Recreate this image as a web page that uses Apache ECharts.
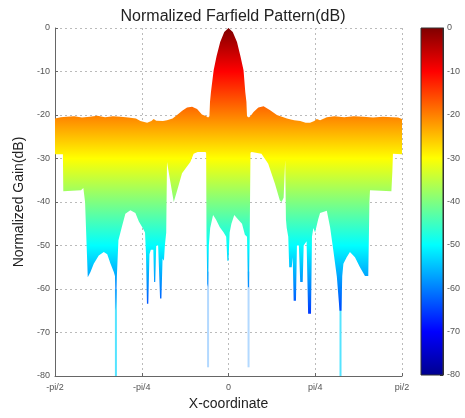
<!DOCTYPE html>
<html>
<head>
<meta charset="utf-8">
<script src="https://cdn.jsdelivr.net/npm/echarts@6/dist/echarts.min.js"></script>
<style>
  html, body { margin: 0; padding: 0; background: #fff; }
  #chart { width: 465px; height: 418px; }
</style>
</head>
<body>
<div id="chart"></div>
<script>
// tick labels of the angle axis (-90..90 deg)
const xTickLabels = ['-pi/2', '-pi/4', '0', 'pi/4', 'pi/2'];

// top edge of the surface seen from the side (deg, dB)
const upperAngle = [-90, -87, -84, -80, -76, -72, -68, -64, -60, -56, -52, -48, -45.7, -42.2, -40, -38.8, -37.5, -34, -31.9, -29,
  -26.7, -24, -21.5, -18.9, -16.3, -13.8, -11.5, -10.6, -9.9, -9.6, -9.1, -7.7, -6.2, -4.3, -2.2, 0,
  2.2, 4.4, 6.2, 7.8, 8.7, 9.3, 9.6, 10.6, 11.5, 13, 15.5, 18.2, 21.6, 25.1, 30.3, 34, 37.2, 40, 42.3,
  44.5, 45.8, 47.5, 51, 55, 60, 65, 70, 75, 80, 85, 88, 90];
const upperGain = [-20.8, -20.5, -20.4, -20.3, -20.6, -20.4, -20.2, -20.5, -20.3, -20.4, -20.6, -20.8, -21.4, -21.8, -21.4, -20.9, -21.3, -21.4, -21.2, -20.8,
  -20.0, -19.0, -18.3, -18.1, -18.6, -19.9, -20.3, -20.6, -20.3, -17.0, -14.7, -9.7, -6.5, -3.2, -0.9, 0,
  -0.9, -3.2, -6.5, -9.7, -14.7, -17.0, -20.3, -20.6, -20.2, -19.3, -18.3, -18.0, -18.9, -20.0, -20.8, -21.2, -21.4, -21.8, -21.8,
  -21.4, -20.9, -21.2, -20.5, -20.3, -20.5, -20.3, -20.4, -20.6, -20.4, -20.5, -20.6, -20.9];

// bottom edge of the surface (deg, dB)
const lowerAngle = [-90, -85.9, -85.7, -76.5, -75.3, -74.4, -73.0, -71.6, -69.9, -67.3, -64.7, -62.9, -61.2, -59.5, -58.9, -58.4, -57.9, -57.1,
  -55.2, -53.5, -50.9, -48.3, -46.5, -44.5, -43.3, -42.8, -42.3, -41.6, -41.0, -40.3, -39.0, -38.6, -38.0, -37.5, -36.5, -35.5, -34.8,
  -34.2, -33.5, -33.0, -32.3, -31.9, -28.4, -26.6, -24.1, -22.3, -19.8, -18.1, -16.0, -12.0, -11.6, -11.4, -11.0, -10.6, -10.2, -9.5,
  -8.0, -6.5, -4.5, -2.5, -1.2, -0.6, 0.0, 0.6, 1.5, 3.0, 5.0, 7.0, 8.5, 9.6, 10.1, 10.6, 11.0, 11.4, 12.0, 17.1, 20.6, 24.1, 26.6,
  27.5, 28.6, 29.4, 29.8, 30.2, 31.0, 31.5, 32.8, 33.3, 33.8, 35.0, 35.5, 36.5, 37.2, 38.5, 39.0, 40.5, 41.3, 42.8, 43.3, 44.0, 44.9,
  46.5, 47.5, 51.0, 52.7, 54.4, 56.2, 57.6, 58.6, 59.0, 59.6, 61.3, 63.0, 65.6, 68.2, 70.8, 72.5, 73.1, 73.4, 84.5, 85.0, 85.3, 90];
const lowerGain = [-29, -29, -37.5, -37.3, -36.8, -40, -57.3, -56.1, -54.2, -52.3, -51.5, -52, -54.2, -56.1, -57, -65, -57, -48.8,
  -45.5, -42.7, -41.9, -42.5, -44.5, -46, -47, -52, -63.4, -63.4, -52, -51, -51, -58.4, -58.4, -50, -50, -62.2, -62.2,
  -53, -53.5, -50, -47, -30.8, -40, -37.3, -33.4, -32.3, -30.8, -28.9, -28.5, -28.5, -28.7, -48, -58.8, -59.6, -50, -46,
  -43, -44, -45.8, -47, -48, -53.5, -53.5, -47, -45, -43, -44, -45, -47.5, -48, -59.6, -59.6, -48, -28.7, -28.5, -28.9, -31.2, -35.8, -39.6,
  -40, -39, -30.4, -44, -46, -48, -55, -55, -52.7, -62.7, -62.7, -50, -50, -58.4, -58.4, -50, -49, -65.7, -65.7, -48, -46, -47,
  -44, -42.5, -42, -45.8, -51.2, -57.2, -65, -65, -57, -54.2, -52.7, -51.5, -52.7, -55, -57, -57, -40, -37.3, -37.5, -33, -28.9, -29];

// thin deep nulls below the surface (deg, from dB, to dB)
const outerSpikeAngle = [-58.4, 58.1];
const outerSpikeTop = [-60, -60];
const outerSpikeBottom = [-80, -80];
const innerSpikeAngle = [-10.6, 10.4];
const innerSpikeTop = [-56, -56];
const innerSpikeBottom = [-78, -78];

const zMax = 0, zMin = -80;

// jet colormap, top (0 dB) to bottom (-80 dB)
const jetStops = [
  { offset: 0, color: '#800000' },
  { offset: 0.125, color: '#ff0000' },
  { offset: 0.375, color: '#ffff00' },
  { offset: 0.625, color: '#00ffff' },
  { offset: 0.875, color: '#0000ff' },
  { offset: 1, color: '#00008f' }
];

function jetFill(api) {
  const top = api.coord([0, zMax])[1];
  const bottom = api.coord([0, zMin])[1];
  return new echarts.graphic.LinearGradient(0, top, 0, bottom, jetStops, true);
}

function spikeSeries(angles, tops, bottoms, color) {
  return {
    type: 'custom',
    xAxisIndex: 0, yAxisIndex: 0,
    data: angles.map((a, i) => [a, tops[i], bottoms[i]]),
    z: 1,
    renderItem: function (params, api) {
      const p1 = api.coord([api.value(0), api.value(1)]);
      const p2 = api.coord([api.value(0), api.value(2)]);
      return { type: 'line', shape: { x1: p1[0], y1: p1[1], x2: p2[0], y2: p2[1] }, style: { stroke: color, lineWidth: 2 } };
    }
  };
}

const font = '"Liberation Sans", Arial, sans-serif';
const chart = echarts.init(document.getElementById('chart'));

chart.setOption({
  animation: false,
  textStyle: { fontFamily: font },
  title: {
    text: 'Normalized Farfield Pattern(dB)',
    left: 228, top: 4, textAlign: 'center',
    textStyle: { fontSize: 16, fontWeight: 'normal', color: '#222', fontFamily: font }
  },
  grid: [
    { left: 55, top: 28, width: 347, height: 348 },
    { left: 421, top: 28, width: 22, height: 347 }
  ],
  xAxis: [{
    type: 'value', gridIndex: 0, min: -90, max: 90, interval: 45,
    name: 'X-coordinate', nameLocation: 'middle', nameGap: 19,
    nameTextStyle: { fontSize: 14, color: '#222' },
    axisLine: { onZero: false, lineStyle: { color: '#666' } },
    axisTick: { inside: true, length: 3, lineStyle: { color: '#666' } },
    axisLabel: { fontSize: 9, color: '#555', margin: 7, formatter: v => xTickLabels[Math.round((v + 90) / 45)] },
    splitLine: { show: true, lineStyle: { color: '#bbb', type: [2, 3] } }
  }, {
    type: 'value', gridIndex: 1, min: 0, max: 1, show: false
  }],
  yAxis: [{
    type: 'value', gridIndex: 0, min: zMin, max: zMax, interval: 10,
    name: 'Normalized Gain(dB)', nameLocation: 'middle', nameGap: 26,
    nameTextStyle: { fontSize: 14, color: '#222' },
    axisLine: { show: true, onZero: false, lineStyle: { color: '#666' } },
    axisTick: { show: true, inside: true, length: 3, lineStyle: { color: '#666' } },
    axisLabel: { fontSize: 9, color: '#555', margin: 5 },
    splitLine: { show: true, lineStyle: { color: '#bbb', type: [2, 3] } }
  }, {
    type: 'value', gridIndex: 1, min: zMin, max: zMax, interval: 10, position: 'right',
    axisLine: { show: true, onZero: false, lineStyle: { color: '#333' } },
    axisTick: { show: true, inside: true, length: 3, lineStyle: { color: '#333' } },
    axisLabel: { fontSize: 9, color: '#555', margin: 4 },
    splitLine: { show: false }
  }],
  series: [
    spikeSeries(outerSpikeAngle, outerSpikeTop, outerSpikeBottom, '#55e4ff'),
    spikeSeries(innerSpikeAngle, innerSpikeTop, innerSpikeBottom, '#b3d9ff'),
    {
      type: 'custom',
      xAxisIndex: 0, yAxisIndex: 0,
      data: [[0, 0]],
      clip: true,
      z: 2,
      renderItem: function (params, api) {
        const pts = [];
        upperAngle.forEach((a, i) => pts.push(api.coord([a, upperGain[i]])));
        for (let i = lowerAngle.length - 1; i >= 0; i--) pts.push(api.coord([lowerAngle[i], lowerGain[i]]));
        return { type: 'polygon', shape: { points: pts }, style: { fill: jetFill(api) } };
      }
    },
    {
      // colorbar
      type: 'custom',
      xAxisIndex: 1, yAxisIndex: 1,
      data: [[0, zMax]],
      renderItem: function (params, api) {
        const p1 = api.coord([0, zMax]);
        const p2 = api.coord([1, zMin]);
        return {
          type: 'rect',
          shape: { x: p1[0], y: p1[1], width: p2[0] - p1[0], height: p2[1] - p1[1] },
          style: { fill: jetFill(api), stroke: '#333', lineWidth: 1 }
        };
      }
    }
  ]
});
</script>
</body>
</html>
